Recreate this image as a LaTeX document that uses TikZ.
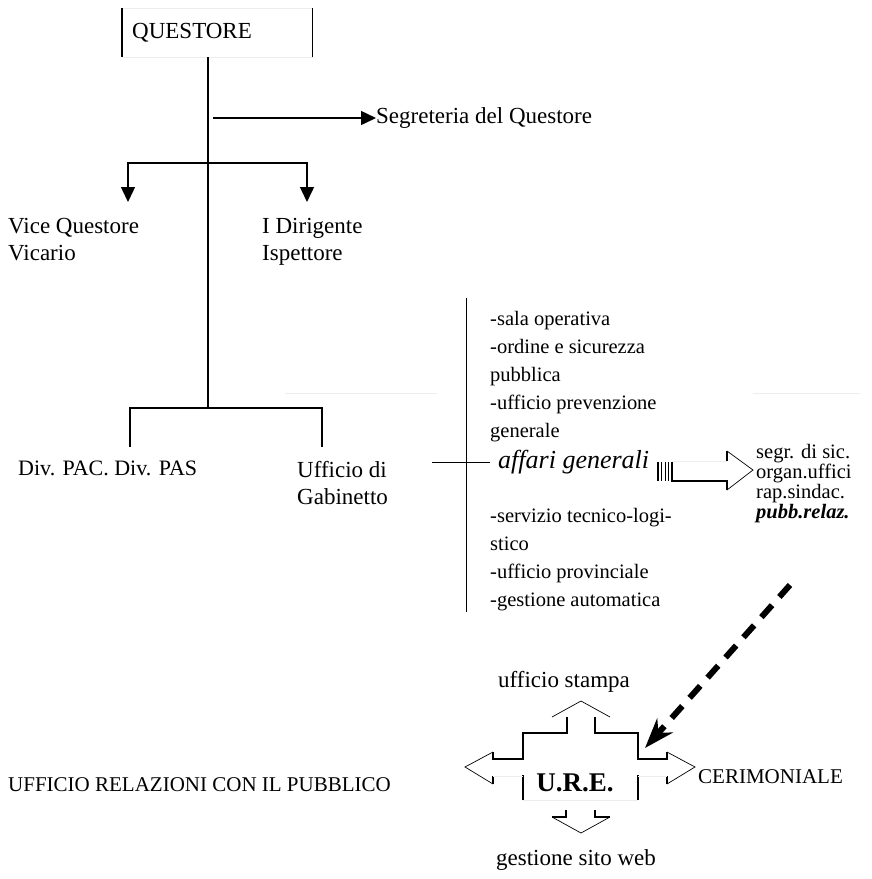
\documentclass[tikz,border=0pt]{standalone}
\usepackage{fontspec}
\setmainfont{Liberation Serif}
\usetikzlibrary{positioning,calc,arrows.meta}
\tikzset{
	txt/.style={inner sep=0pt, align=left, font=\fontsize{23}{27}\selectfont},
	caps/.style={inner sep=0pt, align=left, font=\fontsize{21}{27}\selectfont},
	lst/.style={inner sep=0pt, align=left, font=\fontsize{20.5}{28}\selectfont},
	trunk/.style={line width=2.6pt},
	link/.style={line width=1.4pt},
	tipdown/.style={-{Triangle[length=15pt,width=14pt]}},
	thinline/.style={line width=0.7pt},
	faint/.style={line width=0.6pt, black!7},
}

\begin{document}
\begin{tikzpicture}[x=1pt,y=-1pt]
	\useasboundingbox (0,0) rectangle (871,879);

	% vertice
	\node[minimum width=190pt, minimum height=49pt, draw=black!7, anchor=north west] (qbox) at (122,8) {};
	\node[caps, anchor=west, font=\fontsize{23}{27}\selectfont] (questore) at ([xshift=10pt]qbox.west) {QUESTORE};
	\draw[link] (qbox.north west) -- (qbox.south west);
	\draw[link] (qbox.north east) -- (qbox.south east);

	\coordinate (top) at (208,57);
	\coordinate (fork) at (208,408);
	\draw[trunk] (top) -- (fork);

	% segreteria
	\node[txt, anchor=west] (segr) at (376,118) {Segreteria del Questore};
	\coordinate (s0) at (213,118);
	\draw[link, tipdown] (s0) -- (segr.west);

	% vicari
	\coordinate (b1) at (208,163);
	\coordinate (vq) at (128,202);
	\coordinate (di) at (307,202);
	\draw[link, tipdown] (b1) -| (vq);
	\draw[link, tipdown] (b1) -| (di);
	\node[txt, anchor=north west] (vice) at (8,218) {Vice Questore\\Vicario};
	\node[txt, anchor=north west] (dirig) at (262,218) {I Dirigente\\Ispettore};

	% divisioni
	\coordinate (dv) at (130,447);
	\coordinate (ug) at (322,447);
	\draw[link] (fork) -| (dv);
	\draw[link] (fork) -| (ug);
	\node[txt, anchor=north west, font=\fontsize{22}{27}\selectfont] (div) at (18,461) {Div. PAC. Div. PAS};
	\node[txt, anchor=north west] (gab) at (297,461) {Ufficio di\\Gabinetto};
	\draw[faint] (285,393) -- (437,393);

	% affari generali
	\coordinate (v0) at (466,298);
	\coordinate (v1) at (466,612);
	\draw[thinline] (v0) -- (v1);
	\coordinate (t0) at (432,462);
	\coordinate (t1) at (490,462);
	\draw[thinline] (t0) -- (t1);
	\node[inner sep=0pt, anchor=west, font=\itshape\fontsize{26}{30}\selectfont] (affari) at (498,462) {affari generali};
	\node[lst, anchor=north west] (sopra) at (490,311) {-sala operativa\\-ordine e sicurezza\\pubblica\\-ufficio prevenzione\\generale};
	\node[lst, anchor=north west] (sotto) at (490,508) {-servizio tecnico-logi-\\stico\\-ufficio provinciale\\-gestione automatica};

	% freccia a blocco
	\foreach \x/\w in {658/1.8, 661.5/1.8, 665/0.9, 668/0.9}
		\draw[line width=\w pt] (\x,462) -- (\x,481);
	\draw[line width=1.4pt] (672,462) -- (672,481) -- (727,481) -- (727,490);
	\draw[line width=1.4pt] (727,461) -- (727,451);
	\draw[faint] (672,461) -- (727,461);
	\draw[thinline] (727,451) -- (753,470) -- (727,490);
	\node[inner sep=0pt, anchor=north west, align=left, font=\fontsize{20.5}{20}\selectfont] (sic) at (756,444) {segr. di sic.\\organ.uffici\\rap.sindac.\\\textbf{\textit{pubb.relaz.}}};
	\draw[faint] (753,393) -- (860,393);

	% U.R.E.
	\node[inner sep=0pt, font=\bfseries\fontsize{27}{30}\selectfont] (ure) at (575,783) {U.R.E.};
	\draw[link] (567,717) -- (567,733) -- (523,733) -- (523,759) -- (493,759) -- (493,752);
	\draw[link] (595,717) -- (595,733) -- (638,733) -- (638,759) -- (667,759) -- (667,752);
	\draw[link] (493,776) -- (493,784);
	\draw[link] (667,776) -- (667,784);
	\draw[link] (523,775) -- (523,800);
	\draw[link] (638,775) -- (638,800);
	\draw[link] (566,810) -- (566,817) -- (552,817);
	\draw[link] (595,810) -- (595,817) -- (610,817);
	\draw[thinline] (552,717) -- (581,701) -- (610,717);
	\draw[thinline] (493,752) -- (465,767) -- (493,784);
	\draw[thinline] (667,752) -- (695,767) -- (667,784);
	\draw[thinline] (552,817) -- (581,833) -- (610,817);
	\draw[faint] (493,776) -- (523,776);
	\draw[faint] (638,776) -- (667,776);
	\draw[faint] (523,800) -- (638,800);

	\node[txt] (stampa) at (564,682) {ufficio stampa};
	\node[caps, anchor=west] (urp) at (8,785) {UFFICIO RELAZIONI CON IL PUBBLICO};
	\node[caps, anchor=west] (cer) at (698,777) {CERIMONIALE};
	\node[txt] (web) at (576,860) {gestione sito web};

	% rinvio tratteggiato
	\coordinate (pr) at (790,585);
	\coordinate (pr1) at (645,748);
	\draw[line width=6pt, dash pattern=on 16pt off 11pt, -{Stealth[length=30pt,width=21pt]}] (pr) -- (pr1);
\end{tikzpicture}
\end{document}
